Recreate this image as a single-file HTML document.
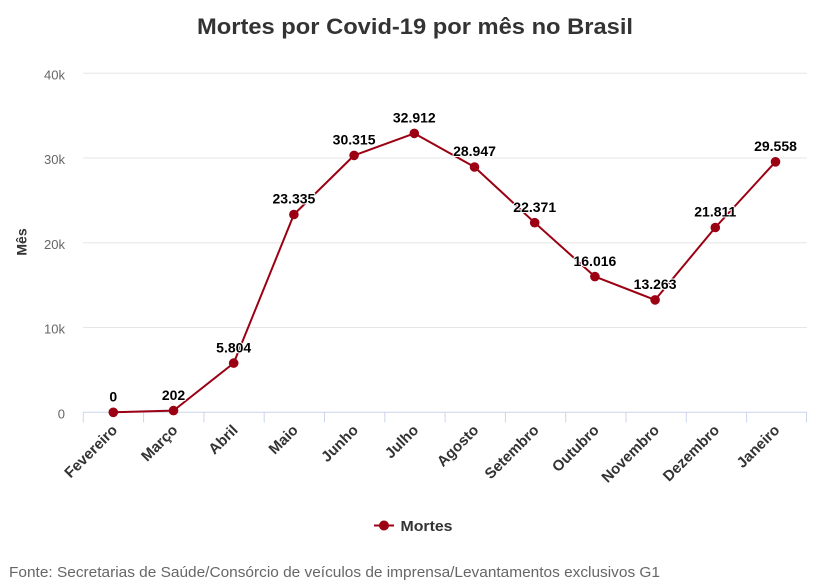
<!DOCTYPE html>
<html>
<head>
<meta charset="utf-8">
<style>
  html, body { margin:0; padding:0; background:#fff; }
  svg { display:block; }
  text { font-family: "Liberation Sans", Arial, sans-serif; }
</style>
</head>
<body>
<svg width="819" height="588" viewBox="0 0 819 588" xmlns="http://www.w3.org/2000/svg">
  <rect x="0" y="0" width="819" height="588" fill="#ffffff"/>

  <!-- Title -->
  <text x="415" y="34" text-anchor="middle" font-size="22" font-weight="bold" fill="#333333" textLength="436" lengthAdjust="spacingAndGlyphs">Mortes por Covid-19 por mês no Brasil</text>

  <!-- Grid lines -->
  <g stroke="#e6e6e6" stroke-width="1">
    <line x1="83" y1="73.3" x2="807" y2="73.3"/>
    <line x1="83" y1="158.05" x2="807" y2="158.05"/>
    <line x1="83" y1="242.8" x2="807" y2="242.8"/>
    <line x1="83" y1="327.55" x2="807" y2="327.55"/>
  </g>

  <!-- Y axis labels -->
  <g font-size="13" fill="#666666" text-anchor="end">
    <text x="65" y="79.5">40k</text>
    <text x="65" y="164.2">30k</text>
    <text x="65" y="249">20k</text>
    <text x="65" y="333.7">10k</text>
    <text x="65" y="418.5">0</text>
  </g>

  <!-- Y axis title -->
  <text transform="translate(26.5,242) rotate(-90)" text-anchor="middle" font-size="14" font-weight="bold" fill="#333333">Mês</text>

  <!-- X axis line and ticks -->
  <g stroke="#ccd6eb" stroke-width="1">
    <line x1="83" y1="412.3" x2="807" y2="412.3"/>
    <line x1="83.3" y1="412.3" x2="83.3" y2="422.5"/>
    <line x1="143.6" y1="412.3" x2="143.6" y2="422.5"/>
    <line x1="203.9" y1="412.3" x2="203.9" y2="422.5"/>
    <line x1="264.2" y1="412.3" x2="264.2" y2="422.5"/>
    <line x1="324.5" y1="412.3" x2="324.5" y2="422.5"/>
    <line x1="384.8" y1="412.3" x2="384.8" y2="422.5"/>
    <line x1="445.1" y1="412.3" x2="445.1" y2="422.5"/>
    <line x1="505.4" y1="412.3" x2="505.4" y2="422.5"/>
    <line x1="565.7" y1="412.3" x2="565.7" y2="422.5"/>
    <line x1="626.0" y1="412.3" x2="626.0" y2="422.5"/>
    <line x1="686.3" y1="412.3" x2="686.3" y2="422.5"/>
    <line x1="746.6" y1="412.3" x2="746.6" y2="422.5"/>
    <line x1="806.5" y1="412.3" x2="806.5" y2="422.5"/>
  </g>

  <!-- X axis labels -->
  <g font-size="15" font-weight="bold" fill="#333333" text-anchor="end">
    <text x="118.3" y="431" transform="rotate(-45 118.3 431)">Fevereiro</text>
    <text x="178.5" y="431" transform="rotate(-45 178.5 431)">Março</text>
    <text x="238.7" y="431" transform="rotate(-45 238.7 431)">Abril</text>
    <text x="298.9" y="431" transform="rotate(-45 298.9 431)">Maio</text>
    <text x="359.1" y="431" transform="rotate(-45 359.1 431)">Junho</text>
    <text x="419.3" y="431" transform="rotate(-45 419.3 431)">Julho</text>
    <text x="479.5" y="431" transform="rotate(-45 479.5 431)">Agosto</text>
    <text x="539.7" y="431" transform="rotate(-45 539.7 431)">Setembro</text>
    <text x="599.9" y="431" transform="rotate(-45 599.9 431)">Outubro</text>
    <text x="660.1" y="431" transform="rotate(-45 660.1 431)">Novembro</text>
    <text x="720.3" y="431" transform="rotate(-45 720.3 431)">Dezembro</text>
    <text x="780.5" y="431" transform="rotate(-45 780.5 431)">Janeiro</text>
  </g>

  <!-- Series line -->
  <polyline fill="none" stroke="#9b0013" stroke-width="2" stroke-linejoin="round" stroke-linecap="round"
    points="113.3,412.3 173.5,410.6 233.7,363.1 293.9,214.5 354.1,155.4 414.3,133.4 474.5,167.0 534.7,222.7 594.9,276.6 655.1,299.9 715.3,227.5 775.5,161.8"/>

  <!-- Markers -->
  <g fill="#9b0013">
    <circle cx="113.3" cy="412.3" r="4.8"/>
    <circle cx="173.5" cy="410.6" r="4.8"/>
    <circle cx="233.7" cy="363.1" r="4.8"/>
    <circle cx="293.9" cy="214.5" r="4.8"/>
    <circle cx="354.1" cy="155.4" r="4.8"/>
    <circle cx="414.3" cy="133.4" r="4.8"/>
    <circle cx="474.5" cy="167.0" r="4.8"/>
    <circle cx="534.7" cy="222.7" r="4.8"/>
    <circle cx="594.9" cy="276.6" r="4.8"/>
    <circle cx="655.1" cy="299.9" r="4.8"/>
    <circle cx="715.3" cy="227.5" r="4.8"/>
    <circle cx="775.5" cy="161.8" r="4.8"/>
  </g>

  <!-- Data labels -->
  <g font-size="14" font-weight="bold" fill="#000000" text-anchor="middle" stroke="#ffffff" stroke-width="2" stroke-linejoin="round" paint-order="stroke">
    <text x="113.3" y="401.5">0</text>
    <text x="173.5" y="399.8">202</text>
    <text x="233.7" y="352.3">5.804</text>
    <text x="293.9" y="203.7">23.335</text>
    <text x="354.1" y="144.6">30.315</text>
    <text x="414.3" y="122.6">32.912</text>
    <text x="474.5" y="156.2">28.947</text>
    <text x="534.7" y="211.9">22.371</text>
    <text x="594.9" y="265.8">16.016</text>
    <text x="655.1" y="289.1">13.263</text>
    <text x="715.3" y="216.7">21.811</text>
    <text x="775.5" y="151.0">29.558</text>
  </g>

  <!-- Legend -->
  <line x1="374" y1="525.5" x2="394" y2="525.5" stroke="#9b0013" stroke-width="2"/>
  <circle cx="384" cy="525.5" r="5" fill="#9b0013"/>
  <text x="400.5" y="531" font-size="15" font-weight="bold" fill="#333333" textLength="52" lengthAdjust="spacingAndGlyphs">Mortes</text>

  <!-- Footer -->
  <text x="9" y="577" font-size="15" fill="#666666" textLength="651" lengthAdjust="spacingAndGlyphs">Fonte: Secretarias de Saúde/Consórcio de veículos de imprensa/Levantamentos exclusivos G1</text>
</svg>
</body>
</html>
